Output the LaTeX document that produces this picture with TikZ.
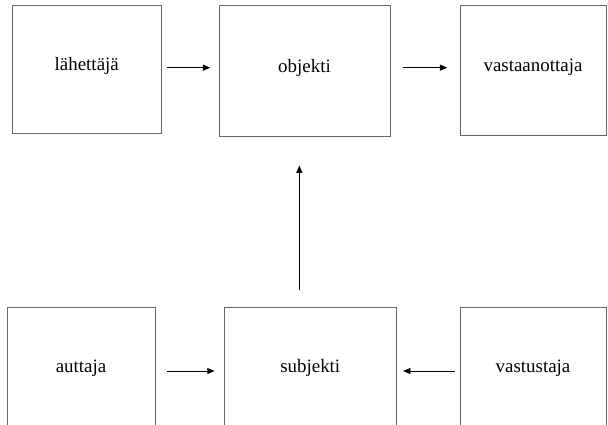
\documentclass[tikz,border=0pt]{standalone}
\usepackage{fontspec}
\setmainfont{Liberation Serif}
\usetikzlibrary{arrows.meta}

\begin{document}
\begin{tikzpicture}[x=1pt,y=1pt,
	box/.style={draw=black!60,line width=0.7pt,fill=white,shape=rectangle,inner sep=0pt,text height=10pt,text depth=8pt,font=\fontsize{14.2}{17}\selectfont},
	arr/.style={line width=0.7pt,-{Triangle[length=5.5pt,width=4.5pt]}}]
	\useasboundingbox (0,0) rectangle (456,-318.75);
	\clip (0,0) rectangle (456,-318.75);
	%
	\node[box,minimum width=112.1pt,minimum height=96pt] (lahettaja) at (65.06,-51.75) {lähettäjä};
	\node[box,minimum width=128.25pt,minimum height=98.6pt] (objekti) at (228.4,-53.06) {objekti};
	\node[box,minimum width=109.5pt,minimum height=97.5pt] (vastaanottaja) at (399.75,-52.5) {vastaanottaja};
	\node[box,minimum width=111pt,minimum height=96pt] (auttaja) at (60.75,-278.25) {auttaja};
	\node[box,minimum width=128.6pt,minimum height=96pt] (subjekti) at (232.7,-278.25) {subjekti};
	\node[box,minimum width=109.5pt,minimum height=96pt] (vastustaja) at (399.75,-278.25) {vastustaja};
	%
	\draw[arr,shorten <=3.9pt,shorten >=6.2pt] ([yshift=1pt]lahettaja.east) -- ([yshift=1pt]lahettaja.east -| objekti.west);
	\draw[arr,shorten <=9.2pt,shorten >=9.2pt] ([yshift=1pt]lahettaja.east -| objekti.east) -- ([yshift=1pt]lahettaja.east -| vastaanottaja.west);
	\draw[arr,shorten <=8.75pt,shorten >=7.1pt] (auttaja.east) -- (auttaja.east -| subjekti.west);
	\draw[arr,shorten <=3.75pt,shorten >=5pt] (vastustaja.west) -- (vastustaja.west -| subjekti.east);
	\draw[arr,shorten <=12.75pt,shorten >=21.4pt] ([xshift=-8.2pt]subjekti.north) -- ([xshift=-8.2pt]subjekti.north |- objekti.south);
	%
\end{tikzpicture}
\end{document}
